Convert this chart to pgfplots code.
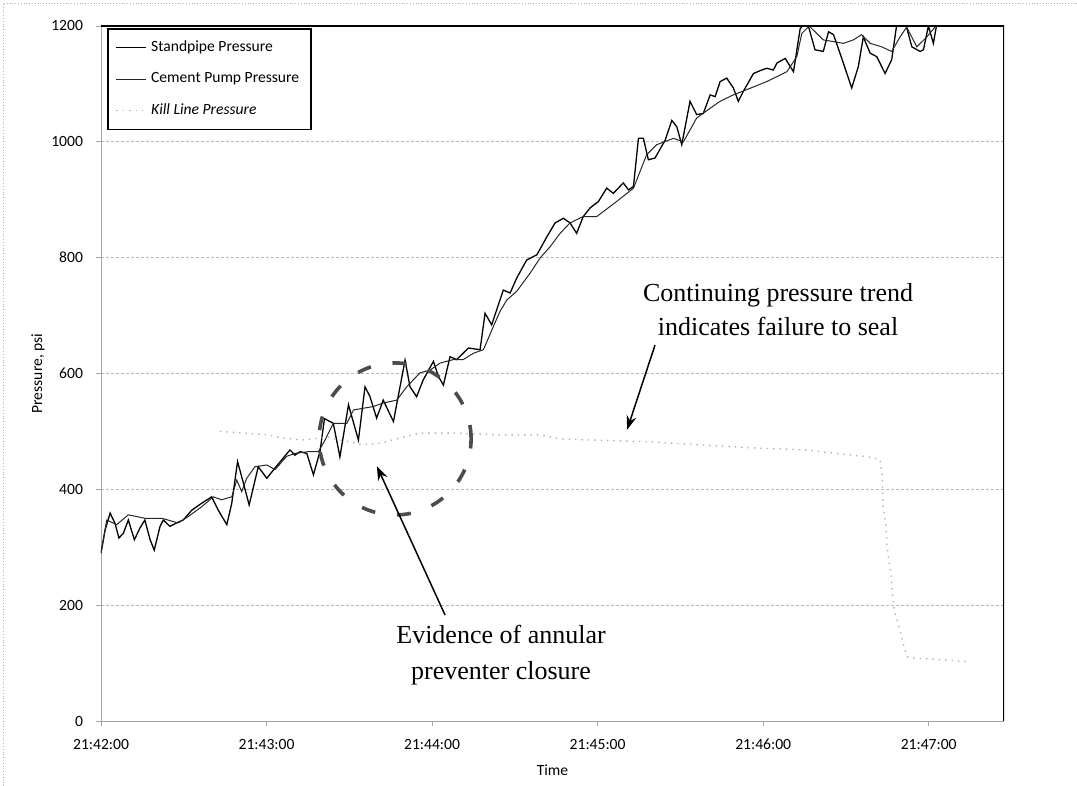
\documentclass[border=0pt]{standalone}
\usepackage{pgfplots}
\pgfplotsset{compat=1.18}
\usetikzlibrary{arrows.meta}
\usepackage{fontspec}
\setmainfont{Carlito}
\newfontfamily\timesfont{Liberation Serif}

\begin{document}
\begin{tikzpicture}
% page frame: 1077 x 786 px at 0.5pt per px, axis corner at px (101,721)
\path[use as bounding box] (-50.5pt,-32.5pt) rectangle (488pt,360.5pt);
\draw[gray!60, densely dotted, line width=0.4pt] (-49pt,-32.5pt) -- (-49pt,359pt) -- (488pt,359pt);
\begin{axis}[
  scale only axis, width=451.5pt, height=347.5pt,
  xmin=0, xmax=327.3, ymin=0, ymax=1200,
  axis lines*=left,
  axis line style={gray!70, line width=0.4pt},
  xtick={0,60,...,300},
  xticklabels={21:42:00,21:43:00,21:44:00,21:45:00,21:46:00,21:47:00},
  ytick={0,200,...,1200},
  ymajorgrids,
  major grid style={gray!55, dash pattern=on 1.5pt off 1pt, line width=0.4pt},
  tick style={gray!70, line width=0.4pt}, major tick length=2.5pt,
  tick align=outside,
  ticklabel style={font=\fontsize{7.8}{9}\selectfont},
  yticklabel style={xshift=-3pt},
  xticklabel style={yshift=-3pt},
  /pgf/number format/assume math mode=true,
  /pgf/number format/1000 sep={},
  xlabel={Time}, ylabel={Pressure, psi},
  label style={font=\fontsize{7.8}{9}\selectfont},
  xlabel style={at={(axis description cs:0.5,-0.0705)}, anchor=center},
  ylabel style={at={(axis description cs:-0.0698,0.5)}, anchor=center},
  legend style={at={(rel axis cs:0.0066,0.997)}, anchor=north west,
    draw=black, line width=0.8pt, fill=white,
    font=\fontsize{7.8}{9}\selectfont, inner xsep=4pt, inner ysep=4pt,
    row sep=5pt, cells={anchor=west}},
  legend image code/.code={\draw[#1] (0pt,0pt) -- (15pt,0pt);},
]
\addplot[black, line width=0.65pt] coordinates {
(0,290) (1.5,330) (3.3,359) (5.1,341) (6.5,316) (8.1,324) (9.9,347) (12.1,313)
(14.1,333) (15.9,347) (17.8,313) (19.3,295) (21.4,336) (22.6,347) (25,336) (27.4,342)
(29.8,347) (32.9,364) (36.5,376) (40.1,387) (42.5,364) (45.6,339) (47.4,376) (49.5,448)
(51.6,411) (53.7,373) (55.6,411) (57,439) (60.1,419) (63.1,437) (68.5,468) (70.3,459)
(72.1,465) (74.6,462) (77,425) (79.4,466) (81,522) (84.2,514) (86.6,456) (89.7,546)
(93.3,485) (95.7,577) (97.5,560) (99.9,523) (102.3,554) (106,517) (110.2,623) (112,577)
(114.4,560) (116.8,589) (120.5,621) (122.3,595) (124.1,580) (126.5,629) (128.9,624) (133.2,644)
(137.4,641) (139.2,704) (141.6,684) (145.8,744) (148.3,739) (150.7,765) (154.3,796) (158,805)
(161.6,836) (164.6,860) (167.6,868) (170,860) (172.4,842) (174.8,871) (177.3,886) (180.3,897)
(183.3,920) (185.7,911) (189.3,929) (191.2,917) (193,923) (194.8,1006) (196.6,1006) (198.4,969)
(200.8,972) (204.5,1003) (206.9,1037) (208.7,1026) (210.5,995) (213.5,1070) (215.9,1047) (218.3,1049)
(220.8,1081) (222.6,1078) (224.4,1104) (226.8,1110) (229.2,1093) (231,1070) (232.8,1087) (236.5,1118)
(239.5,1124) (241.3,1127) (243.7,1124) (245,1136) (248,1144) (251,1121) (253.4,1195) (255.8,1210)
(258.8,1159) (261.8,1156) (263.7,1190) (265.5,1185) (268.5,1144) (272.1,1093) (274.5,1130) (276.3,1181)
(278.8,1153) (281.2,1147) (284.2,1118) (286.6,1142) (288.5,1205) (291,1215) (293.9,1164) (296.9,1156)
(298.1,1159) (299.9,1200) (301.7,1170) (303,1205)
};
\addlegendentry{Standpipe Pressure}
\addplot[black!85, line width=0.5pt] coordinates {
(0,290) (2.1,347) (5.7,339) (9.9,356) (15.9,350) (22,350) (28,342) (31.6,353)
(36.5,370) (40.7,387) (43.7,382) (47.4,387) (49.2,416) (51,396) (52.8,419) (55.8,439)
(60.1,442) (63.1,434) (67.3,457) (70.3,462) (75.1,465) (78.8,465) (81.2,485) (84.2,514)
(89.1,514) (91.5,537) (95.1,540) (98.7,543) (102.3,549) (107.2,554) (110.8,577) (115.6,601)
(119.3,606) (122.9,618) (127.7,624) (131.3,624) (135,635) (138.6,641) (142.2,681) (144.6,707)
(147.1,727) (150.7,742) (155.5,773) (159.1,799) (162.8,819) (166.4,842) (170,860) (174.8,871)
(179.7,871) (186.9,897) (193,920) (197.8,978) (201.4,995) (207.5,1006) (211.1,1000) (215.9,1041)
(220.8,1058) (224.4,1070) (229.2,1081) (234,1090) (241.3,1104) (248.6,1121) (252.2,1147) (254,1187)
(256.7,1200) (261.8,1176) (265.5,1173) (269.1,1170) (272.7,1176) (275.7,1185) (278.8,1170) (283,1164)
(286.6,1156) (289.6,1181) (292,1198) (295.7,1164) (299.3,1181) (302.3,1198)
};
\addlegendentry{Cement Pump Pressure}
\addplot[gray!60, line width=0.7pt, dash pattern=on 0.7pt off 2.5pt] coordinates {
(43.1,500) (52.2,497) (60.5,494) (65.6,489) (72.9,485) (82.3,490) (94.6,477) (101.9,480)
(107.7,488) (115.6,497) (129,497) (144.6,494) (159.1,494) (166.4,487) (178.3,485) (199,482)
(226.9,474) (238.9,471) (255.9,468) (260.6,465) (278,456) (282.4,451) (283.1,425) (283.5,370)
(284.6,336) (284.9,301) (285.7,273) (286.4,255) (286.7,226) (287.5,192) (289.6,157) (290.7,134)
(292.2,111) (293.3,109) (307,105) (315,102)
};
\addlegendentry{\textit{Kill Line Pressure}}

\draw[black, line width=0.6pt] (rel axis cs:0,1) -- (rel axis cs:1,1) -- (rel axis cs:1,0);
\draw[black!70, line width=1.8pt, dash pattern=on 7pt off 11pt] (axis cs:106.6,487) circle[radius=38pt];
\draw[black, line width=0.75pt, -{Stealth[length=7pt, width=5pt]}] (axis cs:124.7,183) -- (axis cs:100,440);
\draw[black, line width=0.75pt, -{Stealth[length=7pt, width=5pt]}] (axis cs:200.8,649) -- (axis cs:190.7,503);
\node[font=\timesfont\fontsize{13}{17}\selectfont, align=center] at (axis cs:245.4,710)
  {Continuing pressure trend\\indicates failure to seal};
\node[font=\timesfont\fontsize{13}{18}\selectfont, align=center] at (axis cs:145,114)
  {Evidence of annular\\preventer closure};
\end{axis}
\end{tikzpicture}
\end{document}
